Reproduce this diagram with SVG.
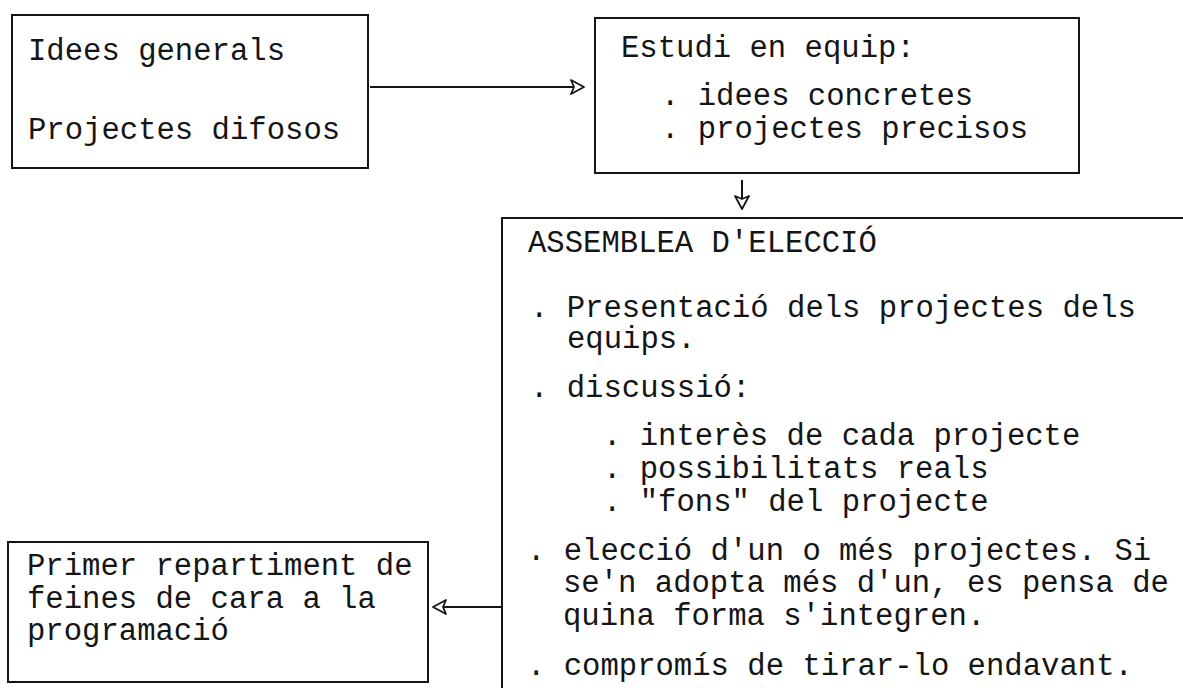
<svg xmlns="http://www.w3.org/2000/svg" width="1183" height="690" viewBox="0 0 1183 690">
<style>
  .box { fill: none; stroke: #151515; stroke-width: 2; }
  .conn { fill: none; stroke: #151515; stroke-width: 2; }
  text { font-family: "Liberation Mono", "Courier New", monospace; font-size: 30.6px; fill: #151515; white-space: pre; }
</style>
<defs>
  <marker id="open" viewBox="0 0 18 18" refX="16" refY="9" markerWidth="18" markerHeight="18" markerUnits="userSpaceOnUse" orient="auto">
    <path d="M3,2 L16,9 L3,16 L6,9 Z" fill="#fff" stroke="#151515" stroke-width="1.8" stroke-linejoin="round"/>
  </marker>
</defs>
<rect x="0" y="0" width="1183" height="690" fill="#fff"/>

<g id="node-idees">
  <rect class="box" x="12" y="15" width="356" height="153"/>
  <text x="28" y="60">Idees generals</text>
  <text x="28" y="139">Projectes difosos</text>
</g>

<g id="node-estudi">
  <rect class="box" x="595" y="18" width="484" height="155"/>
  <text x="621" y="57">Estudi en equip:</text>
  <text x="661" y="105">. idees concretes</text>
  <text x="661" y="138">. projectes precisos</text>
</g>

<g id="node-assemblea">
  <path class="box" d="M502,688 V218 H1183"/>
  <text x="528" y="252">ASSEMBLEA D'ELECCIÓ</text>
  <text x="530" y="317">. Presentació dels projectes dels</text>
  <text x="567" y="348">equips.</text>
  <text x="530" y="397">. discussió:</text>
  <text x="603" y="445">. interès de cada projecte</text>
  <text x="603" y="478">. possibilitats reals</text>
  <text x="603" y="511">. "fons" del projecte</text>
  <text x="527" y="560">. elecció d'un o més projectes. Si</text>
  <text x="563" y="592">se'n adopta més d'un, es pensa de</text>
  <text x="563" y="625">quina forma s'integren.</text>
  <text x="527" y="675">. compromís de tirar-lo endavant.</text>
</g>

<g id="node-primer">
  <rect class="box" x="8" y="542" width="420" height="140"/>
  <text x="27" y="575">Primer repartiment de</text>
  <text x="27" y="608">feines de cara a la</text>
  <text x="27" y="640">programació</text>
</g>

<g id="connectors">
  <line class="conn" x1="370" y1="87" x2="584" y2="87" marker-end="url(#open)"/>
  <line class="conn" x1="742" y1="180" x2="742" y2="209" marker-end="url(#open)"/>
  <line class="conn" x1="501" y1="607" x2="433" y2="607" marker-end="url(#open)"/>
</g>
</svg>
